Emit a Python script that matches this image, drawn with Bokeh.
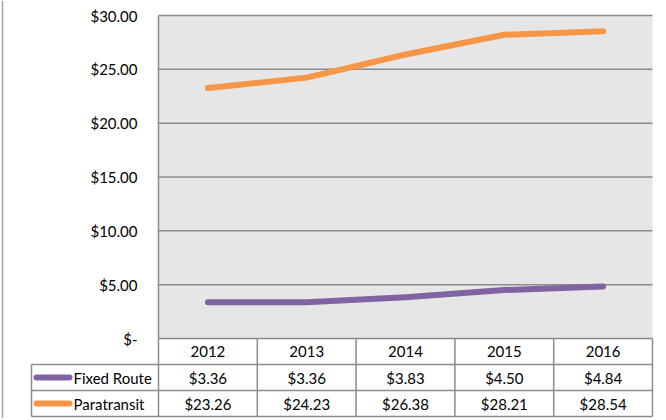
from bokeh.plotting import figure
from bokeh.models import Range1d, LinearAxis, FixedTicker
from bokeh.embed import file_html
from bokeh.resources import INLINE
from bokeh.core.properties import value

# ---------------- data ----------------
years = [2012, 2013, 2014, 2015, 2016]
series_names = ["Fixed Route", "Paratransit"]
fixed_route = [3.36, 3.36, 3.83, 4.50, 4.84]
paratransit = [23.26, 24.23, 26.38, 28.21, 28.54]
y_ticks = [0, 5, 10, 15, 20, 25, 30]
y_tick_labels = ["$-", "$5.00", "$10.00", "$15.00", "$20.00", "$25.00", "$30.00"]
series_values = [fixed_route, paratransit]
colors = ["#8064A2", "#F79646"]

# ---------------- layout (canvas pixels) ----------------
W, H = 660, 418
PLOT_L, PLOT_R = 158, 652
PLOT_T, PLOT_B = 15, 338
ROW_H = 26
TABLE_L = 31
FONT = value("Lato")
FS = "15px"
BORDER = "#8c8c8c"

col_w = (PLOT_R - PLOT_L) / len(years)
x_start = years[0] - 0.5 - PLOT_L / col_w
x_end = x_start + W / col_w
ymax = y_ticks[-1]
px_per_usd = (PLOT_B - PLOT_T) / ymax
y_top = ymax + PLOT_T / px_per_usd
y_bot = -(H - PLOT_B) / px_per_usd


def x_px(px):
    return x_start + px / col_w


left_edge = years[0] - 0.5
right_edge = years[-1] + 0.5

p = figure(width=W, height=H, x_range=Range1d(x_start, x_end), y_range=Range1d(y_bot, y_top),
           output_backend="svg", toolbar_location=None, x_axis_type=None, y_axis_type=None,
           min_border=0)
p.min_border_left = 0
p.min_border_right = 0
p.min_border_top = 0
p.min_border_bottom = 0
p.outline_line_color = None
p.background_fill_color = "white"
p.border_fill_color = "white"
p.extra_y_ranges = {"rows": Range1d(start=(H - PLOT_B) / ROW_H, end=-PLOT_B / ROW_H)}

# sheet edge line at far left
p.segment(x0=[x_px(2)], x1=[x_px(2)], y0=[y_bot], y1=[y_top], line_color="#a6a6a6", line_width=1.5)

# plot area
p.quad(left=[left_edge], right=[right_edge], bottom=[0], top=[ymax],
       fill_color="#e6e6e6", line_color=None)
grid_ys = y_ticks[1:]
p.segment(x0=[left_edge] * len(grid_ys), x1=[right_edge] * len(grid_ys), y0=grid_ys, y1=grid_ys,
          line_color=BORDER, line_width=1.5)

# y axis
yaxis = LinearAxis(fixed_location=left_edge, bounds=(0, ymax), ticker=FixedTicker(ticks=y_ticks),
                   major_label_overrides={t: l for t, l in zip(y_ticks, y_tick_labels)},
                   major_tick_out=0, major_tick_in=0, minor_tick_out=0, minor_tick_in=0,
                   axis_line_color=BORDER, axis_line_width=1.5, major_label_standoff=21,
                   major_label_text_font="Lato", major_label_text_font_size=FS,
                   major_label_text_color="black")
p.add_layout(yaxis, "left")

# series lines
for vals, c in zip(series_values, colors):
    p.line(years, vals, line_color=c, line_width=6, line_cap="round", line_join="round")

# ---------------- data table ----------------
n_rows = 1 + len(series_names)
p.segment(x0=[left_edge], x1=[right_edge], y0=[0], y1=[0], line_color=BORDER, line_width=1.5,
          y_range_name="rows")
hy = list(range(1, n_rows + 1))
p.segment(x0=[x_px(TABLE_L)] * len(hy), x1=[right_edge] * len(hy), y0=hy, y1=hy,
          line_color=BORDER, line_width=1.5, y_range_name="rows")
vx = [left_edge + k for k in range(len(years) + 1)]
p.segment(x0=vx, x1=vx, y0=[0] * len(vx), y1=[n_rows] * len(vx),
          line_color=BORDER, line_width=1.5, y_range_name="rows")
p.segment(x0=[x_px(TABLE_L)], x1=[x_px(TABLE_L)], y0=[1], y1=[n_rows],
          line_color=BORDER, line_width=1.5, y_range_name="rows")

p.text(x=years, y=[0.5] * len(years), text=[str(y) for y in years], y_range_name="rows",
       text_align="center", text_baseline="middle", text_font=FONT, text_font_size=FS,
       text_color="black")

for i, (name, vals, c) in enumerate(zip(series_names, series_values, colors)):
    yc = i + 1.5
    p.segment(x0=[x_px(36)], x1=[x_px(69)], y0=[yc], y1=[yc], line_color=c, line_width=6,
              line_cap="round", y_range_name="rows")
    p.text(x=[x_px(73)], y=[yc], text=[name], y_range_name="rows", text_align="left",
           text_baseline="middle", text_font=FONT, text_font_size=FS, text_color="black")
    p.text(x=years, y=[yc] * len(years), text=[f"${v:.2f}" for v in vals], y_range_name="rows",
           text_align="center", text_baseline="middle", text_font=FONT, text_font_size=FS,
           text_color="black")

open("out.html", "w").write(file_html(p, INLINE))
